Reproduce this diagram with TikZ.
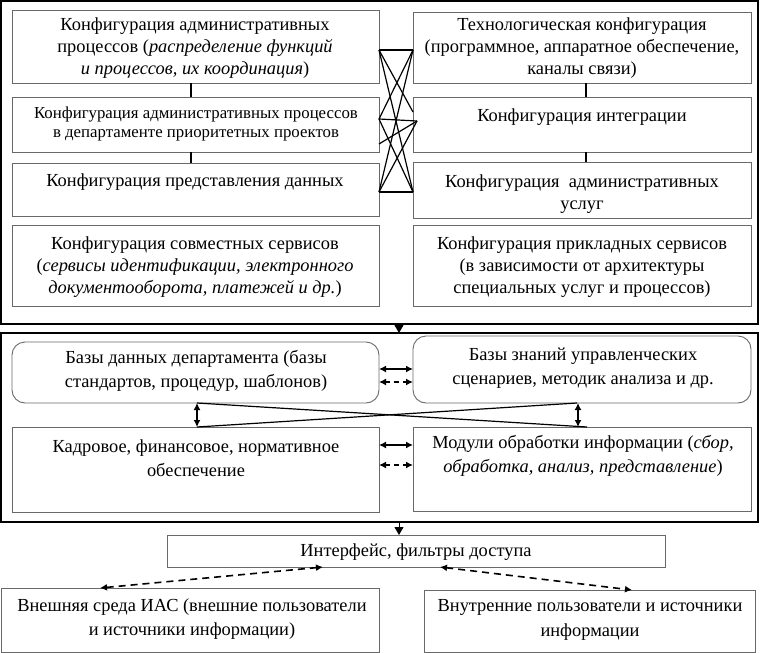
\documentclass[tikz,border=0pt]{standalone}
\usepackage{fontspec}
\setmainfont{Liberation Serif}
\usetikzlibrary{arrows.meta}
\definecolor{boxgray}{RGB}{105,105,105}
\newcommand\fs{\fontsize{18.4}{22.3}\selectfont}
\newcommand\fsm{\fontsize{18.4}{24.5}\selectfont}
\newcommand\fss{\fontsize{16.8}{19}\selectfont}
\newcommand\bx[6]{\node[#6, minimum width={#4-#2}, minimum height={#5-#3}] (#1) at ({(#2+#4)/2},{(#3+#5)/2}) {};}
\begin{document}
\begin{tikzpicture}[x=1pt,y=-1pt,
  box/.style={draw=boxgray, line width=0.9pt, inner sep=0pt, outer sep=0pt},
  rbox/.style={box, rounded corners=13pt},
  frame/.style={draw=black, line width=1.3pt, inner sep=0pt, outer sep=0pt},
  txt/.style={align=center, inner sep=0pt, font=\fs},
  con/.style={line width=1.2pt},
  dbl/.style={line width=1.6pt, {Latex[length=7pt,width=7pt]}-{Latex[length=7pt,width=7pt]}},
  ddash/.style={dbl, dash pattern=on 5pt off 4pt},
  bdash/.style={dbl, dash pattern=on 7pt off 5pt},
  tri/.style={line width=1pt, -{Triangle[length=8pt,width=9pt]}}
]
\useasboundingbox (0,0) rectangle (761,653);
% frames
\bx{f1}{1}{1}{758}{324}{frame}
\bx{f2}{1}{333}{758}{522}{frame}
% top frame boxes
\bx{TL1}{12}{10}{379}{83}{box}
\bx{TL2}{12}{97}{379}{152}{box}
\bx{TL3}{12}{163}{379}{216}{box}
\bx{TL4}{12}{225}{379}{306}{box}
\bx{TR1}{413}{12}{751}{83}{box}
\bx{TR2}{413}{97}{751}{152}{box}
\bx{TR3}{413}{162}{751}{218}{box}
\bx{TR4}{413}{225}{751}{306}{box}
% middle frame boxes
\bx{ML1}{12}{342}{379}{403}{rbox}
\bx{MR1}{413}{336}{751}{403}{rbox}
\bx{ML2}{12}{427}{379}{512}{box}
\bx{MR2}{413}{427}{751}{511}{box}
% bottom
\bx{IF}{167}{535}{665}{567}{box}
\bx{BL}{1}{588}{379}{652}{box}
\bx{BR}{424}{590}{755}{652}{box}
% texts
\node[txt] (tTL1) at (195,48) {Конфигурация административных\\процессов (\textit{распределение функций}\\\textit{и процессов, их координация})};
\node[txt, font=\fss] (tTL2) at (196,124) {Конфигурация административных процессов\\в департаменте приоритетных проектов};
\node[txt] (tTL3) at (195,182) {Конфигурация представления данных};
\node[txt] (tTL4) at (195,267) {Конфигурация совместных сервисов\\(\textit{сервисы идентификации, электронного}\\\textit{документооборота, платежей и др.})};
\node[txt] (tTR1) at (582,48) {Технологическая конфигурация\\(программное, аппаратное обеспечение,\\каналы связи)};
\node[txt] (tTR2) at (582,117) {Конфигурация интеграции};
\node[txt] (tTR3) at (582,194) {Конфигурация~ административных\\услуг};
\node[txt] (tTR4) at (582,267) {Конфигурация прикладных сервисов\\(в зависимости от архитектуры\\специальных услуг и процессов)};
\node[txt, font=\fsm] (tML1) at (196,371) {Базы данных департамента (базы\\стандартов, процедур, шаблонов)};
\node[txt, font=\fsm] (tMR1) at (583,368) {Базы знаний управленческих\\сценариев, методик анализа и др.};
\node[txt, font=\fsm] (tML2) at (196,458) {Кадровое, финансовое, нормативное\\обеспечение};
\node[txt, font=\fsm] (tMR2) at (583,456) {Модули обработки информации (\textit{сбор,}\\\textit{обработка, анализ, представление})};
\node[txt] (tIF) at (416,552) {Интерфейс, фильтры доступа};
\node[txt, font=\fsm] (tBL) at (192,619) {Внешняя среда ИАС (внешние пользователи\\и источники информации)};
\node[txt, font=\fsm] (tBR) at (590,620) {Внутренние пользователи и источники\\информации};
% vertical connectors in top frame
\draw[con] ([xshift=-4.5pt]TL1.south) -- ([xshift=-4.5pt]TL2.north);
\draw[con] ([xshift=-4.5pt]TL2.south) -- ([xshift=-4.5pt]TL3.north);
\draw[con] ([xshift=4pt]TR1.south) -- ([xshift=4pt]TR2.north);
\draw[con] ([xshift=4pt]TR2.south) -- ([xshift=4pt]TR3.north);
% crossing lines in top frame
\coordinate (L1) at ([yshift=-3.5pt]TL1.east);
\coordinate (L2) at ([yshift=5.5pt]TL2.east);
\coordinate (Lx) at ([yshift=-19.5pt]TL2.east);
\coordinate (L3) at ([yshift=-2.5pt]TL3.east);
\coordinate (R1) at ([yshift=-2.5pt]TR1.west);
\coordinate (R2) at ([xshift=4pt,yshift=3.5pt]TR2.west);
\coordinate (R2b) at ([yshift=12.5pt]TR2.west);
\coordinate (R3) at ([yshift=-2pt]TR3.west);
\draw[con] (L1) -- (R1);
\draw[con] (L1) -- (R2b);
\draw[con] (L1) -- (R3);
\draw[con] (R1) -- (L2);
\draw[con] (R1) -- (L3);
\draw[con] (L2) -- (R2);
\draw[con] (L2) -- (R3);
\draw[con] (L3) -- (R2);
\draw[con] (Lx) -- (R2);
\draw[con] (L3) -- (R3);
% arrows between frames
\draw[tri] ([xshift=19.5pt]f1.south) -- ([xshift=19.5pt]f2.north);
\draw[tri] ([xshift=19.5pt]f2.south) -- ([xshift=-17pt]IF.north);
% middle frame arrows
\coordinate (a1) at ([yshift=3.5pt]ML1.east);
\coordinate (a2) at ([yshift=-9.5pt]ML1.east);
\coordinate (a3) at ([yshift=24.5pt]ML2.east);
\coordinate (a4) at ([yshift=4.5pt]ML2.east);
\draw[dbl] (a1) -- (a1 -| MR1.west);
\draw[ddash] (a2) -- (a2 -| MR1.west);
\draw[dbl] (a3) -- (a3 -| MR2.west);
\draw[ddash] (a4) -- (a4 -| MR2.west);
\draw[dbl] ([xshift=1.5pt]ML1.south) -- ([xshift=1.5pt]ML2.north);
\draw[dbl] ([xshift=-4pt]MR1.south) -- ([xshift=-4pt]MR2.north);
\draw[con] ([xshift=1.5pt]ML1.south) -- ([xshift=5pt]MR2.north);
\draw[con] ([xshift=1.5pt]ML2.north) -- ([xshift=-5pt]MR1.south);
% bottom dashed arrows
\draw[bdash] ([xshift=-93pt]IF.south) -- ([xshift=-90pt]BL.north);
\draw[bdash] ([xshift=24pt]IF.south) -- ([xshift=42.5pt]BR.north);
\end{tikzpicture}
\end{document}
